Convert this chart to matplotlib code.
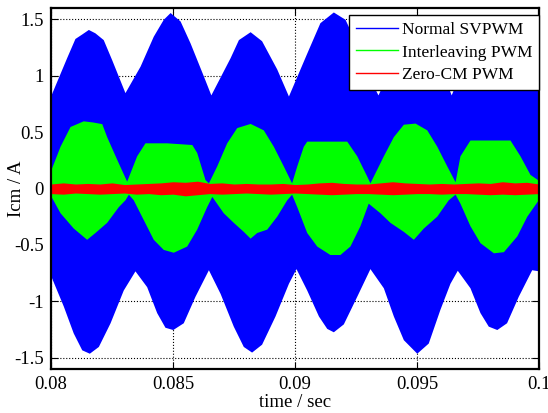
import numpy as np
import matplotlib.pyplot as plt

plt.rcParams['font.family'] = ['Liberation Serif', 'DejaVu Serif']

# envelope points (time in s, current in A)
t_blue_hi = [0.0800, 0.08064, 0.08098, 0.08126, 0.08153, 0.0818, 0.08214, 0.08249, 0.08303,
             0.08365, 0.08419, 0.0846, 0.08488, 0.08529, 0.0857, 0.08624, 0.08655,
             0.08734, 0.08768, 0.08816, 0.08863, 0.08925, 0.08973,
             0.09048, 0.09102, 0.09157, 0.09205, 0.0925, 0.0930, 0.0934,
             0.0941, 0.0944, 0.0950, 0.0955, 0.0960, 0.0964,
             0.0971, 0.0977, 0.09827, 0.0987, 0.0991, 0.0996, 0.1000]
blue_hi = [0.83, 1.16, 1.33, 1.37, 1.41, 1.38, 1.32, 1.14, 0.85,
           1.085, 1.35, 1.50, 1.56, 1.485, 1.29, 1.00, 0.83,
           1.16, 1.32, 1.39, 1.31, 1.06, 0.82,
           1.20, 1.47, 1.565, 1.50, 1.29, 1.00, 0.83,
           1.16, 1.32, 1.40, 1.31, 1.06, 0.83,
           1.20, 1.45, 1.54, 1.48, 1.29, 1.00, 0.88]

t_blue_lo = [0.0800, 0.0805, 0.08091, 0.08126, 0.08157, 0.08194, 0.08242, 0.08296, 0.08344,
             0.08392, 0.08433, 0.08467, 0.08499, 0.08542, 0.0859, 0.08645,
             0.08693, 0.08747, 0.08788, 0.08822, 0.08863, 0.08918, 0.08973, 0.09004,
             0.09048, 0.09096, 0.0913, 0.09157, 0.09198, 0.09253, 0.09307,
             0.09362, 0.09403, 0.09444, 0.09499, 0.09546, 0.09594, 0.09635, 0.09665,
             0.09717, 0.09758, 0.09792, 0.09827, 0.09867, 0.09915, 0.0997, 0.1000]
blue_lo = [-0.78, -1.04, -1.28, -1.43, -1.46, -1.40, -1.19, -0.90, -0.73,
           -0.87, -1.10, -1.23, -1.25, -1.19, -0.955, -0.72,
           -0.93, -1.22, -1.40, -1.45, -1.38, -1.13, -0.84, -0.71,
           -0.90, -1.13, -1.24, -1.27, -1.20, -0.955, -0.71,
           -0.88, -1.13, -1.34, -1.46, -1.37, -1.07, -0.84, -0.725,
           -0.88, -1.10, -1.22, -1.25, -1.19, -0.955, -0.72, -0.73]

t_green_hi = [0.0800, 0.08037, 0.08078, 0.08132, 0.0817, 0.08208, 0.08228, 0.08269, 0.0831,
              0.08351, 0.08385, 0.08474, 0.08577, 0.08597, 0.08631, 0.08645,
              0.08679, 0.0872, 0.08761, 0.08816, 0.0887, 0.08911, 0.08952, 0.08986,
              0.09007, 0.09034, 0.09048, 0.09212, 0.09253, 0.09294, 0.09307,
              0.09362, 0.09403, 0.09444, 0.09492, 0.0954, 0.09581, 0.09622, 0.09656,
              0.09676, 0.09717, 0.09881, 0.09922, 0.09963, 0.1000]
green_hi = [0.17, 0.375, 0.55, 0.60, 0.59, 0.575, 0.46, 0.26, 0.065,
            0.29, 0.405, 0.405, 0.39, 0.32, 0.08, 0.05,
            0.20, 0.405, 0.54, 0.577, 0.52, 0.375, 0.20, 0.05,
            0.20, 0.375, 0.42, 0.42, 0.29, 0.11, 0.05,
            0.29, 0.46, 0.57, 0.58, 0.52, 0.375, 0.20, 0.06,
            0.29, 0.43, 0.43, 0.29, 0.125, 0.07]

t_green_lo = [0.0800, 0.08037, 0.08091, 0.08146, 0.0818, 0.08228, 0.08276, 0.08303, 0.08317,
              0.08337, 0.08378, 0.08419, 0.0846, 0.08501, 0.08556, 0.08597, 0.08638, 0.08659,
              0.08706, 0.08747, 0.08788, 0.08816, 0.08843, 0.08884, 0.08925, 0.08966, 0.08986,
              0.09007, 0.09048, 0.09089, 0.09143, 0.09184, 0.09225, 0.09266, 0.0930,
              0.09348, 0.09389, 0.09444, 0.09485, 0.09526, 0.09581, 0.09628, 0.09656,
              0.09676, 0.09717, 0.09758, 0.09813, 0.09854, 0.09909, 0.0995, 0.1000]
green_lo = [-0.07, -0.215, -0.35, -0.45, -0.39, -0.30, -0.16, -0.10, -0.05,
            -0.10, -0.275, -0.45, -0.54, -0.565, -0.51, -0.36, -0.16, -0.07,
            -0.215, -0.30, -0.38, -0.44, -0.39, -0.36, -0.245, -0.10, -0.05,
            -0.16, -0.39, -0.51, -0.585, -0.585, -0.51, -0.33, -0.13,
            -0.215, -0.30, -0.38, -0.45, -0.35, -0.245, -0.10, -0.05,
            -0.13, -0.33, -0.48, -0.57, -0.56, -0.42, -0.245, -0.09]

t_red = [0.0800, 0.0805, 0.0810, 0.0815, 0.0820, 0.0825, 0.0830, 0.0835, 0.0840, 0.0845,
         0.0850, 0.0855, 0.0860, 0.0865, 0.0870, 0.0875, 0.0880, 0.0885, 0.0890, 0.0895,
         0.0900, 0.0905, 0.0910, 0.0915, 0.0920, 0.0925, 0.0930, 0.0935, 0.0940, 0.0945,
         0.0950, 0.0955, 0.0960, 0.0965, 0.0970, 0.0975, 0.0980, 0.0985, 0.0990, 0.0995, 0.1000]
red_hi = [0.04, 0.05, 0.04, 0.045, 0.04, 0.05, 0.035, 0.04, 0.045, 0.05,
          0.06, 0.055, 0.065, 0.045, 0.05, 0.04, 0.045, 0.04, 0.04, 0.045,
          0.035, 0.04, 0.05, 0.055, 0.045, 0.04, 0.04, 0.05, 0.06, 0.05,
          0.045, 0.04, 0.045, 0.04, 0.045, 0.05, 0.045, 0.06, 0.05, 0.055, 0.04]
red_lo = [-0.045, -0.05, -0.04, -0.045, -0.05, -0.045, -0.04, -0.05, -0.045, -0.055,
          -0.05, -0.065, -0.055, -0.045, -0.05, -0.045, -0.04, -0.045, -0.05, -0.045,
          -0.04, -0.045, -0.05, -0.055, -0.05, -0.045, -0.045, -0.05, -0.055, -0.05,
          -0.045, -0.045, -0.05, -0.045, -0.045, -0.05, -0.055, -0.05, -0.055, -0.05, -0.045]

labels = ['Normal SVPWM', 'Interleaving PWM', 'Zero-CM PWM']
colors = ['#0000ff', '#00ff00', '#ff0000']

fig = plt.figure(figsize=(5.48, 4.13), dpi=100)
ax = fig.add_axes([0.0931, 0.1065, 0.8905, 0.8741])

# upper and lower edges were read at different times, put them on one time base
def fill_env(t_hi, hi, t_lo, lo, c):
    tt = np.union1d(t_hi, t_lo)
    ax.fill_between(tt, np.interp(tt, t_lo, lo), np.interp(tt, t_hi, hi),
                    color=c, linewidth=0, zorder=2)

fill_env(t_blue_hi, blue_hi, t_blue_lo, blue_lo, colors[0])
fill_env(t_green_hi, green_hi, t_green_lo, green_lo, colors[1])
ax.fill_between(t_red, red_lo, red_hi, color=colors[2], linewidth=0, zorder=3)

for lab, c in zip(labels, colors):
    ax.plot([], [], color=c, lw=1, label=lab)

ax.set_xlim(0.08, 0.1)
ax.set_ylim(-1.6, 1.6)
ax.set_xticks([0.08, 0.085, 0.09, 0.095, 0.1])
ax.set_xticklabels(['0.08', '0.085', '0.09', '0.095', '0.1'])
ax.set_yticks([-1.5, -1, -0.5, 0, 0.5, 1, 1.5])
ax.set_yticklabels(['-1.5', '-1', '-0.5', '0', '0.5', '1', '1.5'])
ax.grid(True, color='black', linestyle=':', linewidth=0.8, zorder=1)
ax.set_axisbelow(True)
ax.tick_params(direction='in', top=True, right=True, labelsize=13.5, length=5, pad=5)
for s in ax.spines.values():
    s.set_linewidth(1.6)
    s.set_zorder(5)

ax.set_xlabel('time / sec', fontsize=13.5, labelpad=1)
ax.set_ylabel('Icm / A', fontsize=13.5)
ax.yaxis.set_label_coords(-0.054, 0.5)

leg = ax.legend(loc='upper right', bbox_to_anchor=(1.0, 0.981), borderaxespad=0,
                fontsize=12.5, fancybox=False, edgecolor='black', framealpha=1,
                handlelength=2.4, handletextpad=0.2, borderpad=0.4, labelspacing=0.37)
leg.get_frame().set_linewidth(1.0)
leg.set_zorder(6)

fig.savefig('out.png', dpi=100)
